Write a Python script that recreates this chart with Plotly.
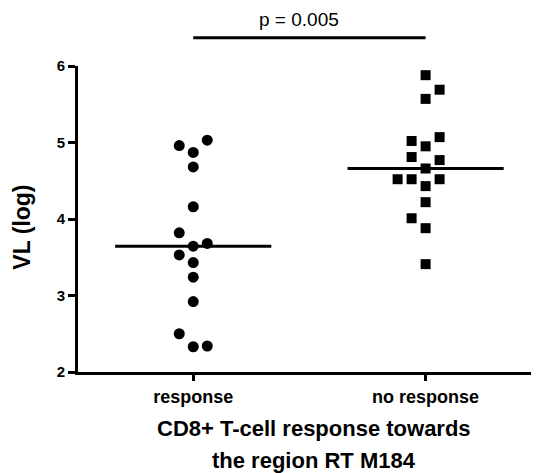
import numpy as np
import plotly.graph_objects as go

# ---------------- data ----------------
categories = ["response", "no response"]
response_vl = [2.33, 2.92, 3.24, 3.43, 3.645, 4.16, 4.68, 4.87,
               2.34, 2.50, 3.68, 3.53, 5.03, 3.82, 4.96]
no_response_vl = [3.41, 3.88, 4.22, 4.43, 4.66, 4.95, 5.57, 5.88,
                  5.69, 4.01, 4.77, 4.81, 5.07, 4.52, 4.52, 4.52, 5.02]
y_ticks = [2, 3, 4, 5, 6]
p_label = "p = 0.005"
x_title_lines = ["CD8+ T-cell response towards", "the region RT M184"]
y_title = "VL (log)"

# ---------------- layout constants ----------------
# the page body adds an 8px offset, so the figure is 8px smaller
W, H = 531, 465
M = dict(l=70, r=0, t=58, b=101)
X_RANGE = [-0.496, 1.488]
Y_RANGE = [2, 6]
plot_w = W - M["l"] - M["r"]
plot_h = H - M["t"] - M["b"]
px_x = plot_w / (X_RANGE[1] - X_RANGE[0])
px_y = plot_h / (Y_RANGE[1] - Y_RANGE[0])
SLOT_PX = 14
MIN_DIST_PX = 13.7
MEDIAN_HALF = 0.336
FONT = "Liberation Sans, Arial, sans-serif"


def swarm(values):
    """Simple beeswarm: each point takes the nearest free column slot."""
    placed = []
    slots = []
    for v in values:
        ypx = v * px_y

        def free(s):
            return all(((s - ps) * SLOT_PX) ** 2 + (ypx - py) ** 2 >= MIN_DIST_PX ** 2
                       for ps, py in placed)

        chosen, d = None, 0
        while chosen is None:
            if d == 0:
                cands = [0]
            else:
                left = sum(1 for ps, _ in placed if ps < 0)
                right = sum(1 for ps, _ in placed if ps > 0)
                cands = [-d, d] if left < right else [d, -d]
            for s in cands:
                if free(s):
                    chosen = s
                    break
            d += 1
        placed.append((chosen, ypx))
        slots.append(chosen)
    return slots


groups = [response_vl, no_response_vl]
symbols = ["circle", "square"]
sizes = [11, 10]

fig = go.Figure()
for gi, vals in enumerate(groups):
    slots = swarm(vals)
    xs = [gi + s * SLOT_PX / px_x for s in slots]
    fig.add_trace(go.Scatter(
        x=xs, y=vals, mode="markers",
        marker=dict(symbol=symbols[gi], size=sizes[gi], color="black",
                    line=dict(width=0)),
        showlegend=False, hoverinfo="y", cliponaxis=False))
    med = float(np.median(vals))
    fig.add_trace(go.Scatter(
        x=[gi - MEDIAN_HALF, gi + MEDIAN_HALF], y=[med, med], mode="lines",
        line=dict(color="black", width=3), showlegend=False, hoverinfo="skip"))

# significance bracket
fig.add_shape(type="line", xref="x", yref="paper", x0=0, x1=1,
              y0=1.0925, y1=1.0925, line=dict(color="black", width=3))
fig.add_annotation(text=p_label, xref="paper", yref="paper", x=0.479, y=1.152,
                   xanchor="center", yanchor="middle", showarrow=False,
                   font=dict(family=FONT, size=19, color="black"))

# axis titles
fig.add_annotation(text=y_title, xref="paper", yref="paper", x=-0.1215, y=0.475,
                   xanchor="center", yanchor="middle", textangle=-90, showarrow=False,
                   font=dict(family=FONT, size=23, color="black", weight="bold"))
for i, line in enumerate(x_title_lines):
    fig.add_annotation(text=line, xref="paper", yref="paper", x=0.512, y=0,
                       xanchor="center", yanchor="middle", yshift=-56 - 32 * i,
                       showarrow=False,
                       font=dict(family=FONT, size=22, color="black", weight="bold"))

fig.update_xaxes(range=X_RANGE, tickvals=list(range(len(categories))),
                 ticktext=categories, showline=True, linecolor="black", linewidth=3,
                 ticks="outside", ticklen=6, tickwidth=3, tickcolor="black",
                 showgrid=False, zeroline=False,
                 tickfont=dict(family=FONT, size=18, color="black", weight="bold"))
fig.update_yaxes(range=Y_RANGE, tickvals=y_ticks, showline=True, linecolor="black",
                 linewidth=3, ticks="outside", ticklen=7, tickwidth=3,
                 tickcolor="black", showgrid=False, zeroline=False,
                 tickfont=dict(family=FONT, size=15, color="black", weight="bold"))

fig.update_layout(width=W, height=H, margin=M, plot_bgcolor="white",
                  paper_bgcolor="white", font=dict(family=FONT, color="black"))

fig.write_html("out.html")
